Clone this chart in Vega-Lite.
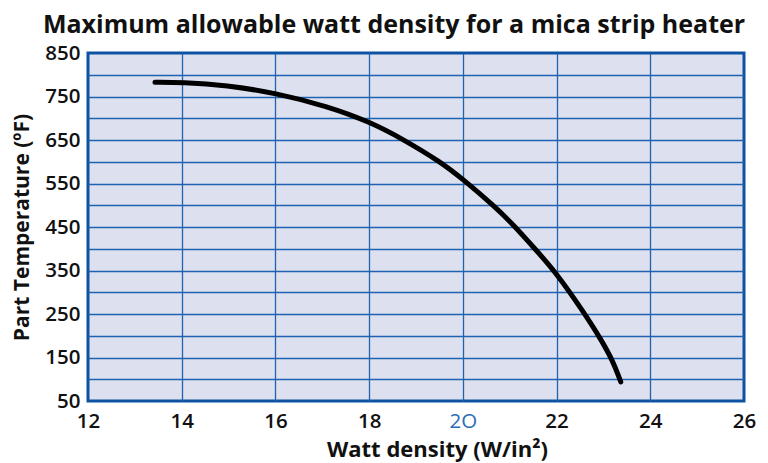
{
  "$schema": "https://vega.github.io/schema/vega-lite/v6.json",
  "autosize": "none",
  "width": 656,
  "height": 348,
  "padding": {"left": 88, "top": 53, "right": 24, "bottom": 62},
  "background": "white",
  "title": {
    "text": "Maximum allowable watt density for a mica strip heater",
    "anchor": "middle",
    "dx": -22,
    "offset": 5,
    "font": "Open Sans",
    "fontSize": 25,
    "fontWeight": "bold",
    "color": "#111111"
  },
  "config": {
    "view": {"fill": "#dde1ef", "stroke": "#0d52a3", "strokeWidth": 3},
    "axis": {
      "labelFont": "Open Sans",
      "titleFont": "Open Sans",
      "labelFontSize": 20.5,
      "labelFontWeight": 600,
      "labelColor": "#111111",
      "titleFontSize": 21,
      "titleFontWeight": "bold",
      "titleColor": "#111111",
      "ticks": false,
      "domain": false,
      "labelFlush": false,
      "gridColor": "#1f62b0",
      "gridWidth": 1.3,
      "gridOpacity": {"condition": {"test": "datum.value == 12 || datum.value == 26 || datum.value == 50 || datum.value == 850", "value": 0}, "value": 1}
    }
  },
  "data": {
    "values": [
      {"w": 13.43, "t": 783},
      {"w": 14.0, "t": 783},
      {"w": 14.96, "t": 776},
      {"w": 16.0, "t": 758},
      {"w": 17.1, "t": 728},
      {"w": 18.03, "t": 691},
      {"w": 18.72, "t": 652},
      {"w": 19.52, "t": 600},
      {"w": 20.0, "t": 560},
      {"w": 20.66, "t": 499},
      {"w": 21.08, "t": 455},
      {"w": 21.52, "t": 402},
      {"w": 22.0, "t": 344},
      {"w": 22.58, "t": 254},
      {"w": 22.94, "t": 193},
      {"w": 23.19, "t": 145},
      {"w": 23.37, "t": 94}
    ]
  },
  "mark": {"type": "line", "color": "black", "strokeWidth": 5, "strokeCap": "round", "strokeJoin": "round", "interpolate": "basis"},
  "encoding": {
    "x": {
      "field": "w",
      "type": "quantitative",
      "scale": {"domain": [12, 26], "nice": false, "zero": false},
      "axis": {
        "values": [12, 14, 16, 18, 20, 22, 24, 26],
        "labelPadding": 10,
        "labelExpr": "datum.value == 20 ? '2O' : datum.label",
        "labelColor": {"condition": {"test": "datum.value == 20", "value": "#2a6db5"}, "value": "#111111"},
        "labelFontWeight": {"condition": {"test": "datum.value == 20", "value": "normal"}, "value": 600},
        "title": "Watt density (W/in²)",
        "titleFontSize": 22,
        "titlePadding": 8,
        "titleX": 349
      }
    },
    "y": {
      "field": "t",
      "type": "quantitative",
      "scale": {"domain": [50, 850], "nice": false, "zero": false},
      "axis": {
        "values": [50, 100, 150, 200, 250, 300, 350, 400, 450, 500, 550, 600, 650, 700, 750, 800, 850],
        "labelExpr": "datum.value % 100 == 50 ? datum.label : ''",
        "labelPadding": 8,
        "title": "Part Temperature (ºF)",
        "titlePadding": 12
      }
    }
  }
}
